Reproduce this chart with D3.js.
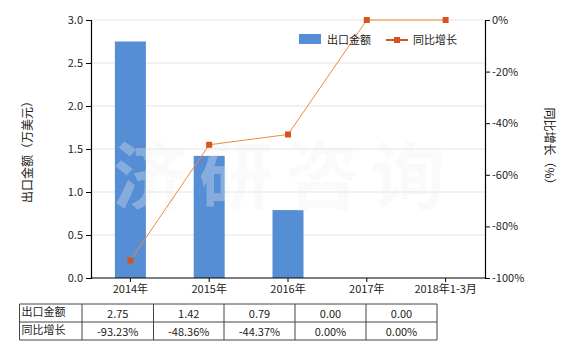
<!DOCTYPE html>
<html lang="zh">
<head>
<meta charset="utf-8">
<script src="https://cdn.jsdelivr.net/npm/d3@7"></script>
<style>
  body { margin: 0; background: #fff; }
  text { font-family: "Microsoft YaHei", "Noto Sans CJK SC", sans-serif; font-size: 11px; fill: #222; }
</style>
</head>
<body>
<script>
// chart data
var categories = ["2014年", "2015年", "2016年", "2017年", "2018年1-3月"];
var exportValues = [2.75, 1.42, 0.79, 0.00, 0.00];
var growthValues = [-93.23, -48.36, -44.37, 0.00, 0.00];
var exportLabels = ["2.75", "1.42", "0.79", "0.00", "0.00"];
var growthLabels = ["-93.23%", "-48.36%", "-44.37%", "0.00%", "0.00%"];
var leftTicks = [0, 0.5, 1.0, 1.5, 2.0, 2.5, 3.0];
var rightTicks = [0, -20, -40, -60, -80, -100];

var w = 580, h = 350;
var plotLeft = 91, plotRight = 485, plotTop = 20, plotBottom = 278;

var svg = d3.select("body").append("svg")
  .attr("width", w).attr("height", h);

var xScale = d3.scaleBand().domain(categories).range([plotLeft, plotRight]);
var yLeft = d3.scaleLinear().domain([0, 3]).range([plotBottom, plotTop]);
var yRight = d3.scaleLinear().domain([-100, 0]).range([plotBottom, plotTop]);

// gridlines
svg.append("g").selectAll("line")
  .data(leftTicks.filter(function(d){ return d > 0; }))
  .enter().append("line")
  .attr("x1", plotLeft).attr("x2", plotRight)
  .attr("y1", function(d){ return yLeft(d); })
  .attr("y2", function(d){ return yLeft(d); })
  .attr("stroke", "#e3e3e3").attr("stroke-width", 1);

// bars
var barW = 31;
svg.append("g").selectAll("rect")
  .data(exportValues)
  .enter().append("rect")
  .attr("x", function(d, i){ return xScale(categories[i]) + xScale.bandwidth()/2 - barW/2; })
  .attr("y", function(d){ return yLeft(d); })
  .attr("width", barW)
  .attr("height", function(d){ return plotBottom - yLeft(d); })
  .attr("fill", "#558ed5");

// watermark (two layers: lightens bars, faint grey on white)
["#ffffff", "#000000"].forEach(function(c, i){
  svg.append("text")
    .attr("x", 285).attr("y", 203)
    .attr("text-anchor", "middle")
    .style("font-size", "74px").style("font-weight", "bold")
    .style("fill", c).style("fill-opacity", i === 0 ? 0.3 : 0.018)
    .style("letter-spacing", "12px")
    .text("济研咨询");
});

// axes
var axisLeft = d3.axisLeft(yLeft).tickValues(leftTicks)
  .tickFormat(d3.format(".1f")).tickSize(5).tickPadding(3);
var gL = svg.append("g").attr("transform", "translate(" + plotLeft + ",0)").call(axisLeft);

var axisRight = d3.axisRight(yRight).tickValues(rightTicks)
  .tickFormat(function(d){ return d + "%"; }).tickSize(5).tickPadding(2);
var gR = svg.append("g").attr("transform", "translate(" + plotRight + ",0)").call(axisRight);

var axisBottom = d3.axisBottom(xScale).tickSize(4).tickPadding(3);
var gB = svg.append("g").attr("transform", "translate(0," + plotBottom + ")").call(axisBottom);

[gL, gR, gB].forEach(function(g){
  g.select(".domain").attr("stroke", "#000").attr("stroke-width", 1.2);
  g.selectAll(".tick line").attr("stroke", "#000");
  g.selectAll("text").attr("fill", "#222").style("font-size", "11px")
    .attr("font-family", null);
});
gB.select(".domain").attr("d", "M" + plotLeft + ",0H" + plotRight);

// growth line
var cx = function(i){ return xScale(categories[i]) + xScale.bandwidth()/2; };
var line = d3.line()
  .x(function(d, i){ return cx(i); })
  .y(function(d){ return yRight(d); });
svg.append("path")
  .datum(growthValues)
  .attr("d", line)
  .attr("fill", "none")
  .attr("stroke", "#f0883e")
  .attr("stroke-width", 1);
svg.append("g").selectAll("rect")
  .data(growthValues)
  .enter().append("rect")
  .attr("x", function(d, i){ return cx(i) - 3; })
  .attr("y", function(d){ return yRight(d) - 3; })
  .attr("width", 6).attr("height", 6)
  .attr("fill", "#d4541b");

// axis titles
svg.append("text")
  .attr("transform", "translate(32," + ((plotTop + plotBottom)/2) + ") rotate(-90)")
  .attr("text-anchor", "middle")
  .style("font-size", "12px")
  .text("出口金额（万美元）");
svg.append("text")
  .attr("transform", "translate(545," + ((plotTop + plotBottom)/2) + ") rotate(90)")
  .attr("text-anchor", "middle")
  .style("font-size", "12px")
  .text("同比增长（%）");

// legend
var lg = svg.append("g");
lg.append("rect").attr("x", 299).attr("y", 34).attr("width", 22).attr("height", 10).attr("fill", "#558ed5");
lg.append("text").attr("x", 327).attr("y", 44).text("出口金额");
lg.append("line").attr("x1", 386).attr("x2", 408).attr("y1", 40).attr("y2", 40)
  .attr("stroke", "#d4541b").attr("stroke-width", 2);
lg.append("rect").attr("x", 394).attr("y", 37).attr("width", 6).attr("height", 6).attr("fill", "#d4541b");
lg.append("text").attr("x", 413).attr("y", 44).text("同比增长");

// data table
var colEdges = [19.5, 82, 153.5, 224, 295, 366, 437];
var rowEdges = [304, 322, 340];
var table = svg.append("g");
var rows = [
  { name: "出口金额", vals: exportLabels },
  { name: "同比增长", vals: growthLabels }
];
rows.forEach(function(r, ri){
  var y = (rowEdges[ri] + rowEdges[ri+1]) / 2 + 4;
  table.append("text").attr("x", colEdges[0] + 2).attr("y", y - 1).text(r.name);
  r.vals.forEach(function(v, ci){
    table.append("text")
      .attr("x", (colEdges[ci+1] + colEdges[ci+2]) / 2)
      .attr("y", y + 1)
      .attr("text-anchor", "middle")
      .text(v);
  });
});
rowEdges.forEach(function(y){
  table.append("line").attr("x1", colEdges[0]).attr("x2", colEdges[colEdges.length-1])
    .attr("y1", y).attr("y2", y).attr("stroke", "#444").attr("stroke-width", 1);
});
colEdges.forEach(function(x){
  table.append("line").attr("x1", x).attr("x2", x)
    .attr("y1", rowEdges[0]).attr("y2", rowEdges[rowEdges.length-1])
    .attr("stroke", "#444").attr("stroke-width", 1);
});
</script>
</body>
</html>
